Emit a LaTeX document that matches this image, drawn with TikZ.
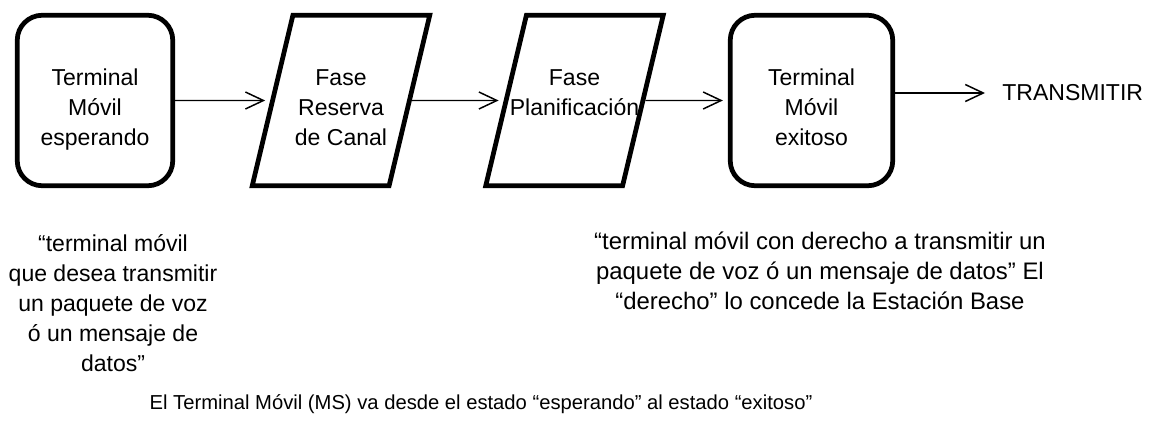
\documentclass[tikz,border=0pt]{standalone}
\usepackage{fontspec}
\setmainfont{Liberation Sans}
\usepackage{tikz}
\usetikzlibrary{arrows.meta,shapes.geometric,positioning}
\tikzstyle{arrow} = [line width=0.85pt,-{Straight Barb[length=3.6mm,width=3.4mm]},shorten >=1mm]
\tikzstyle{statebox} = [rectangle, rounded corners=5mm, draw, line width=2.7pt, minimum width=3.11cm, minimum height=3.41cm, align=center, text height=1.9cm, text depth=0.1cm]
\tikzstyle{phasebox} = [trapezium, trapezium left angle=70, trapezium right angle=110, trapezium stretches body=true, draw, line width=2.7pt, inner xsep=0pt, minimum width=3.55cm, minimum height=3.41cm, align=center, text height=1.9cm, text depth=0.1cm]
\tikzstyle{notetext} = [align=center, inner sep=0pt]

\begin{document}
\begin{tikzpicture}[font=\fontsize{13.1}{17.1}\selectfont]
\useasboundingbox (0,0) rectangle (23.06,-8.6);
\node[statebox] (wait) at (1.9,-2.01) {Terminal\\Móvil\\esperando};
\node[phasebox] (res) at (6.82,-2.01) {Fase\\Reserva\\de Canal};
\node[phasebox] (plan) at (11.49,-2.01) {Fase\\\makebox[1.5cm]{Planificación}\\~};
\node[statebox, minimum width=3.25cm] (ok) at (16.23,-2.01) {Terminal\\Móvil\\exitoso};
\node[notetext, anchor=west] (tx) at (20.04,-1.86) {TRANSMITIR};

\draw[arrow] (wait) -- (res);
\draw[arrow] (res) -- (plan);
\draw[arrow] (plan) -- (ok);
\draw[arrow, shorten >=3.4mm] (ok.east |- tx) -- (tx);

\node[notetext] (waitnote) at (2.26,-6.06) {“terminal móvil\\que desea transmitir\\un paquete de voz\\ó un mensaje de\\datos”};
\node[notetext, font=\fontsize{13.6}{17.1}\selectfont] (oknote) at (16.4,-5.42) {“terminal móvil con derecho a transmitir un\\paquete de voz ó un mensaje de datos” El\\“derecho” lo concede la Estación Base};
\node[notetext, font=\fontsize{11.5}{14}\selectfont] (caption) at (9.62,-8.08) {El Terminal Móvil (MS) va desde el estado “esperando” al estado “exitoso”};
\end{tikzpicture}
\end{document}
